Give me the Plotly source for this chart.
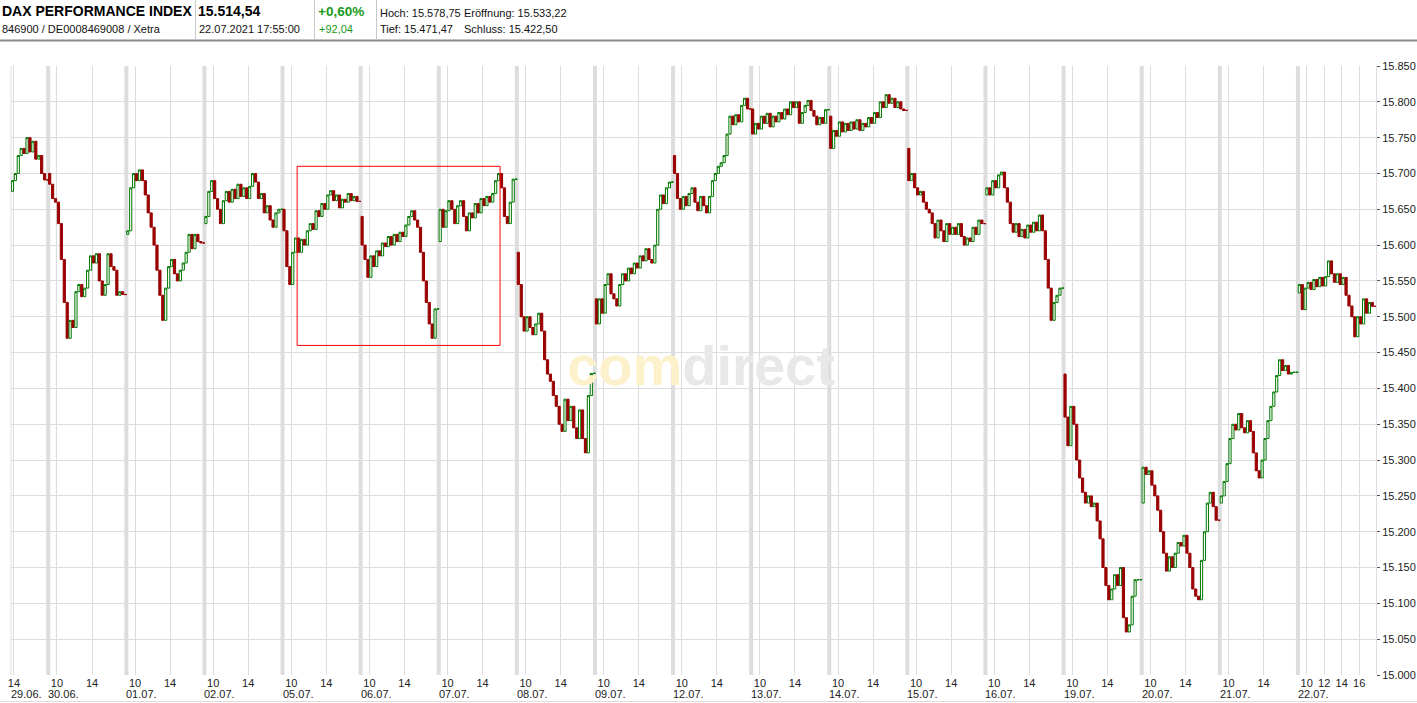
import plotly.graph_objects as go

# ---------------- data ----------------
day_labels = ["29.06.", "30.06.", "01.07.", "02.07.", "05.07.", "06.07.", "07.07.", "08.07.", "09.07.",
              "12.07.", "13.07.", "14.07.", "15.07.", "16.07.", "19.07.", "20.07.", "21.07.", "22.07."]
day_open = [15675, 15700, 15615, 15630, 15650, 15640, 15605, 15590, 15525,
            15725, 15790, 15780, 15735, 15670, 15420, 15240, 15240, 15533.22]
first_candle = ["13:40"] + ["09:00"] * 17
candle_minutes = 20

# 20-minute closes per trading day
c_2906 = [15690, 15700, 15725, 15735, 15728, 15750, 15730, 15745, 15720, 15725, 15700, 15691, 15691]
c_3006 = [15685, 15665, 15660, 15630, 15580, 15520, 15470, 15495, 15485, 15535, 15545, 15528, 15540, 15565,
          15585, 15575, 15588, 15550, 15530, 15545, 15588, 15570, 15565, 15530, 15535, 15531, 15531]
c_0107 = [15620, 15680, 15700, 15690, 15705, 15690, 15670, 15645, 15625, 15600, 15565, 15530, 15495, 15540,
          15570, 15580, 15560, 15550, 15565, 15575, 15590, 15615, 15595, 15615, 15605, 15603, 15603]
c_0207 = [15640, 15675, 15690, 15665, 15650, 15630, 15662, 15675, 15660, 15678, 15665, 15685, 15668, 15680,
          15665, 15682, 15700, 15688, 15665, 15672, 15645, 15655, 15635, 15625, 15645, 15650, 15650]
c_0507 = [15620, 15570, 15545, 15590, 15610, 15590, 15608, 15600, 15620, 15630, 15622, 15648, 15640, 15658,
          15650, 15670, 15676, 15662, 15670, 15652, 15664, 15660, 15672, 15662, 15668, 15661, 15661]
c_0607 = [15600, 15580, 15555, 15585, 15570, 15592, 15585, 15603, 15598, 15612, 15600, 15615, 15605, 15618,
          15612, 15628, 15640, 15648, 15635, 15625, 15590, 15550, 15520, 15490, 15470, 15511, 15511]
c_0707 = [15650, 15625, 15648, 15662, 15650, 15630, 15655, 15662, 15640, 15620, 15645, 15638, 15658, 15645,
          15665, 15655, 15668, 15660, 15672, 15690, 15700, 15680, 15640, 15630, 15660, 15692, 15692]
c_0807 = [15545, 15500, 15480, 15500, 15485, 15475, 15490, 15505, 15480, 15440, 15420, 15410, 15390, 15375,
          15350, 15340, 15385, 15355, 15375, 15345, 15330, 15370, 15330, 15310, 15390, 15421, 15421]
c_0907 = [15490, 15525, 15505, 15545, 15560, 15532, 15525, 15515, 15545, 15560, 15550, 15568, 15560, 15575,
          15568, 15585, 15578, 15595, 15580, 15575, 15600, 15650, 15670, 15658, 15680, 15688, 15688]
c_1207 = [15700, 15665, 15650, 15668, 15655, 15672, 15680, 15660, 15648, 15668, 15655, 15645, 15668, 15690,
          15700, 15710, 15715, 15725, 15755, 15780, 15768, 15782, 15772, 15795, 15805, 15790, 15790]
c_1307 = [15755, 15770, 15762, 15780, 15770, 15784, 15765, 15780, 15772, 15785, 15776, 15790, 15782, 15800,
          15792, 15800, 15770, 15785, 15795, 15802, 15788, 15780, 15768, 15778, 15770, 15789, 15789]
c_1407 = [15735, 15760, 15752, 15772, 15758, 15770, 15760, 15772, 15762, 15775, 15760, 15770, 15765, 15778,
          15770, 15785, 15778, 15800, 15792, 15810, 15798, 15805, 15792, 15800, 15790, 15788, 15788]
c_1507 = [15690, 15700, 15680, 15670, 15675, 15660, 15650, 15645, 15630, 15610, 15635, 15620, 15605, 15630,
          15615, 15625, 15615, 15630, 15612, 15600, 15610, 15605, 15625, 15615, 15635, 15630, 15630]
c_1607 = [15680, 15670, 15690, 15680, 15698, 15702, 15680, 15660, 15630, 15618, 15630, 15612, 15622, 15610,
          15628, 15618, 15632, 15620, 15642, 15620, 15580, 15540, 15495, 15520, 15530, 15540, 15540]
c_1907 = [15360, 15320, 15375, 15350, 15300, 15275, 15255, 15240, 15250, 15235, 15240, 15215, 15190, 15150,
          15125, 15105, 15120, 15140, 15125, 15150, 15080, 15060, 15070, 15110, 15133, 15133, 15133]
c_2007 = [15290, 15280, 15285, 15265, 15250, 15230, 15200, 15170, 15145, 15165, 15150, 15170, 15185, 15180,
          15195, 15170, 15150, 15120, 15110, 15105, 15160, 15200, 15240, 15255, 15235, 15216, 15216]
c_2107 = [15250, 15270, 15295, 15330, 15350, 15342, 15365, 15345, 15338, 15355, 15340, 15310, 15285, 15275,
          15300, 15330, 15355, 15375, 15395, 15418, 15440, 15425, 15432, 15420, 15422.5, 15422.5, 15422.5]
c_2207 = [15545, 15510, 15540, 15548, 15538, 15552, 15542, 15555, 15543, 15556, 15578, 15560, 15548, 15560,
          15545, 15555, 15530, 15515, 15500, 15472, 15500, 15490, 15525, 15505, 15520, 15514.54, 15514.54]

closes_by_day = [c_2906, c_3006, c_0107, c_0207, c_0507, c_0607, c_0707, c_0807, c_0907,
                 c_1207, c_1307, c_1407, c_1507, c_1607, c_1907, c_2007, c_2107, c_2207]

# hour tick labels (day index, hour)
hour_ticks = [(0, "14")] + [(d, hh) for d in range(1, 17) for hh in ("10", "14")] + \
             [(17, "10"), (17, "12"), (17, "14"), (17, "16")]

header_name = "DAX PERFORMANCE INDEX"
header_ids = "846900 / DE0008469008 / Xetra"
header_last = "15.514,54"
header_time = "22.07.2021 17:55:00"
header_pct = "+0,60%"
header_abs = "+92,04"
header_hoch = "Hoch: 15.578,75"
header_eroeff = "Eröffnung: 15.533,22"
header_tief = "Tief: 15.471,47"
header_schluss = "Schluss: 15.422,50"

box_from = (4, "10:40")   # highlighted box 05.07. 10:40 ...
box_to = (6, "16:00")     # ... 07.07. 16:00
box_prices = (15460, 15710)

# ---------------- build ----------------
SESSION = 535.0  # 09:00 - 17:55 in minutes


def tpos(d, hhmm):
    hh, mm = map(int, hhmm.split(":"))
    return d + ((hh - 9) * 60 + mm) / SESSION


xs, o, h, l, c = [], [], [], [], []
for d, (cl, op0, t0) in enumerate(zip(closes_by_day, day_open, first_candle)):
    x0 = tpos(d, t0)
    prev = op0
    for k, v in enumerate(cl):
        xs.append(x0 + (k * candle_minutes + candle_minutes / 2) / SESSION)
        o.append(prev)
        c.append(v)
        h.append(max(prev, v))
        l.append(min(prev, v))
        prev = v

X_MIN = tpos(0, first_candle[0])
X_MAX = tpos(17, "17:55")

FONT = "Liberation Sans, Arial, Helvetica, sans-serif"
GREEN = "#007800"
RED = "#990000"
GRID = "#dddddd"
W, H = 1417, 703
ML, MR, MT, MB = 11, 41, 66, 28
PW, PH = W - ML - MR, H - MT - MB


def ax(px):
    return (px - ML) / PW


def ay(py):
    return (H - MB - py) / PH


fig = go.Figure()

# watermark (drawn first so that candles lie above it)
wm_x = X_MIN + 0.5055 * (X_MAX - X_MIN)
wm_y = 15000 + 0.4985 * 850
fig.add_trace(go.Scatter(
    x=[wm_x], y=[wm_y], mode="text",
    text=["<b><span style='color:#fdf1cc'>com</span><span style='color:#e8e8e8'>direct</span></b>"],
    textfont=dict(size=56, family=FONT, color="#e8e8e8"),
    hoverinfo="skip", showlegend=False))

fig.add_trace(go.Candlestick(
    x=xs, open=o, high=h, low=l, close=c,
    increasing=dict(line=dict(color=GREEN, width=1), fillcolor="white"),
    decreasing=dict(line=dict(color=RED, width=1), fillcolor=RED),
    whiskerwidth=0, showlegend=False, hoverinfo="skip"))

tick_vals = [tpos(d, hh + ":00") for d, hh in hour_ticks]
tick_text = [hh for d, hh in hour_ticks]

shapes = []
# day separators
for d in range(1, len(day_labels)):
    shapes.append(dict(type="line", xref="x", yref="paper", x0=d, x1=d, y0=0, y1=1,
                       line=dict(color=GRID, width=4), layer="below"))
# left border of plot
shapes.append(dict(type="line", xref="paper", yref="paper", x0=0, x1=0, y0=0, y1=1,
                   line=dict(color=GRID, width=1), layer="below"))
# highlighted box
shapes.append(dict(type="rect", xref="x", yref="y",
                   x0=tpos(*box_from), x1=tpos(*box_to), y0=box_prices[0], y1=box_prices[1],
                   line=dict(color="#ff0000", width=1), fillcolor="rgba(0,0,0,0)", layer="above"))
# header lines
shapes.append(dict(type="line", xref="paper", yref="paper", x0=ax(0), x1=ax(W), y0=ay(40.5), y1=ay(40.5),
                   line=dict(color="#8a8a8a", width=2)))
for sx in (195.5, 314.5, 376.5):
    shapes.append(dict(type="line", xref="paper", yref="paper", x0=ax(sx), x1=ax(sx), y0=ay(0), y1=ay(39),
                       line=dict(color="#c8c8c8", width=1)))
# bottom frame line
shapes.append(dict(type="line", xref="paper", yref="paper", x0=ax(0), x1=ax(W), y0=ay(701.5), y1=ay(701.5),
                   line=dict(color=GRID, width=1)))

annotations = []
# date labels below hour labels
for d, lab in enumerate(day_labels):
    annotations.append(dict(xref="x", yref="paper", x=max(d, X_MIN), y=ay(694), text=lab,
                            xanchor="left", yanchor="middle", showarrow=False, xshift=-2,
                            font=dict(family=FONT, size=11, color="#222222")))


def head(px, py, text, size, bold=False, color="#000000"):
    annotations.append(dict(xref="paper", yref="paper", x=ax(px), y=ay(py),
                            text=("<b>%s</b>" % text) if bold else text,
                            xanchor="left", yanchor="middle", showarrow=False,
                            font=dict(family=FONT, size=size, color=color)))


head(0, 11, header_name, 14, True)
head(196, 11, header_last, 14, True)
head(316, 11, header_pct, 13.5, True, "#1a9a1a")
head(0, 29.5, header_ids, 11, False, "#111111")
head(197, 29.5, header_time, 11, False, "#111111")
head(317, 29.5, header_abs, 11, False, "#1a9a1a")
head(378, 13.5, header_hoch, 11, False, "#111111")
head(462, 13.5, header_eroeff, 11, False, "#111111")
head(378, 29.5, header_tief, 11, False, "#111111")
head(462, 29.5, header_schluss, 11, False, "#111111")

fig.update_layout(
    width=W, height=H,
    margin=dict(l=ML, r=MR, t=MT, b=MB, pad=0, autoexpand=False),
    paper_bgcolor="white", plot_bgcolor="white",
    separators=",.",
    boxgap=0, boxgroupgap=0,
    font=dict(family=FONT, size=11, color="#222222"),
    showlegend=False, hovermode=False,
    shapes=shapes, annotations=annotations,
    xaxis=dict(range=[X_MIN, X_MAX], tickmode="array", tickvals=tick_vals, ticktext=tick_text,
               showgrid=True, gridcolor=GRID, gridwidth=1, zeroline=False, showline=False,
               ticks="", tickfont=dict(family=FONT, size=11, color="#222222"), automargin=False,
               rangeslider=dict(visible=False), fixedrange=True),
    yaxis=dict(range=[15000, 15850], side="right", dtick=50, tick0=15000, tickformat=",.0f",
               showgrid=True, gridcolor=GRID, gridwidth=1, zeroline=False, automargin=False,
               showline=True, linecolor=GRID, linewidth=1,
               ticks="outside", ticklen=3, tickcolor="#555555",
               tickfont=dict(family=FONT, size=11, color="#222222"), fixedrange=True),
)

fig.write_html("out.html", include_plotlyjs=True, full_html=True,
               config={"displayModeBar": False, "staticPlot": True},
               post_script="document.body.style.margin='0px';document.body.style.overflow='hidden';")
